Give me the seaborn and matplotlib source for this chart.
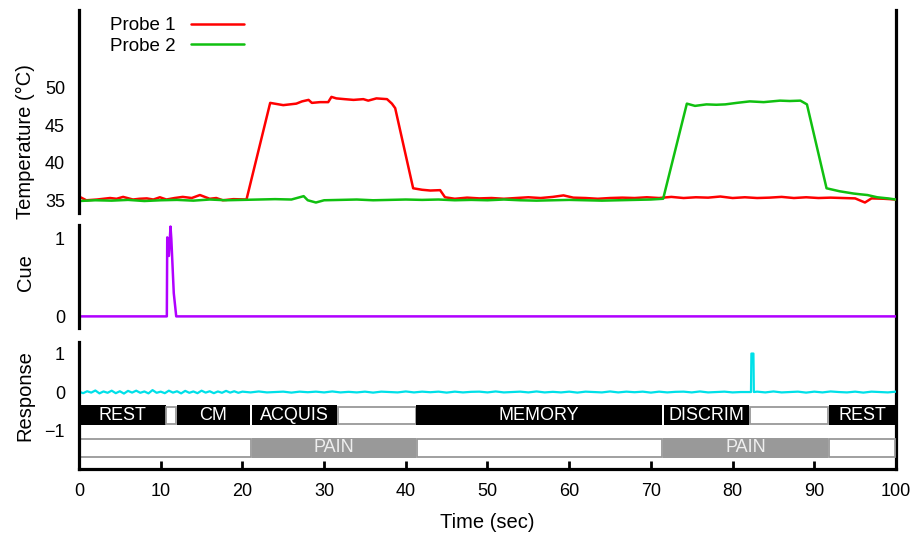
import matplotlib
matplotlib.use("Agg")
import matplotlib.pyplot as plt
import seaborn as sns

# Probe 1 temperature (deg C)
probe1_time = [0, 0.9, 2.2, 3, 3.8, 4.6, 5.4, 6.6, 7.4, 8.3, 9.1, 9.9, 10.7, 11.7, 12.7, 13.8, 14.8, 16, 16.8, 17.6, 18.9, 20.5,
               23.4, 25.0, 26.6, 27.3, 28.1, 28.5, 29.5, 30.5, 30.9, 31.5, 32.5, 33.6, 34.8, 35.4, 36.4, 37.7, 38.3, 38.7,
               40.9, 42.0, 43.0, 44.2, 44.8,
               46, 47.5, 49, 50.5, 52, 53.5, 55, 56.5, 58, 59.3, 60.5, 62, 63.5, 65, 66.5, 68, 69.5, 71, 72.5, 74,
               75.5, 77, 78.5, 80, 81.5, 83, 84.5, 86, 87.5, 89, 90.5, 92, 93.5, 95, 96.2, 97, 98.5, 100]
probe1_temp = [35.5, 35.0, 35.1, 35.2, 35.3, 35.2, 35.45, 35.1, 35.2, 35.25, 35.1, 35.4, 35.1, 35.3, 35.45, 35.3, 35.7, 35.2, 35.3, 35.0, 35.15, 35.1,
               48.0, 47.7, 47.9, 48.2, 48.4, 48.0, 48.1, 48.1, 48.8, 48.6, 48.5, 48.4, 48.5, 48.3, 48.6, 48.5, 47.9, 47.3,
               36.6, 36.4, 36.3, 36.35, 35.4,
               35.2, 35.35, 35.25, 35.3, 35.2, 35.3, 35.4, 35.3, 35.45, 35.65, 35.35, 35.3, 35.2, 35.3, 35.35, 35.3, 35.4, 35.3, 35.45, 35.3,
               35.4, 35.35, 35.5, 35.3, 35.4, 35.3, 35.35, 35.45, 35.3, 35.4, 35.3, 35.35, 35.3, 35.25, 34.7, 35.25, 35.2, 35.1]

# Probe 2 temperature (deg C)
probe2_time = [0, 2, 4, 6, 8, 10, 12, 14, 16, 18, 20, 22, 24, 26, 27.5, 28, 29, 30, 32, 34, 36, 38, 40, 42, 44, 46, 48, 50,
               52, 54, 56, 58, 60, 62, 64, 66, 68, 70, 71.5,
               74.4, 75.4, 76.8, 78, 79.1, 80.5, 82.1, 83.8, 85.8, 87, 88.3, 89.1,
               91.5, 93.1, 94.8, 95.6, 96.5, 97.7, 99, 100]
probe2_temp = [34.9, 35.0, 34.95, 35.05, 34.9, 35.0, 35.05, 34.95, 35.1, 35.0, 35.05, 35.1, 35.15, 35.1, 35.55, 35.0, 34.7, 35.0,
               35.05, 35.1, 35.0, 35.05, 35.1, 35.05, 35.1, 35.0, 35.05, 35.0, 35.1, 35.0, 34.95, 35.0, 35.05, 35.0, 34.95, 35.0,
               35.05, 35.1, 35.2,
               47.9, 47.6, 47.8, 47.75, 47.8, 48.0, 48.2, 48.1, 48.3, 48.25, 48.3, 47.8,
               36.6, 36.2, 35.9, 35.8, 35.7, 35.4, 35.25, 35.1]

# Cue signal
cue_time = [0, 10.75, 10.8, 11.0, 11.2, 11.3, 11.6, 11.9, 100]
cue_value = [0, 0, 1.02, 0.78, 1.16, 1.0, 0.3, 0, 0]

# Response signal
resp_time = [x / 2 for x in range(0, 40)] + list(range(20, 82)) + [82.25, 82.3, 82.55, 82.6] + list(range(83, 101))
resp_value = [0.01, -0.03, 0.02, -0.015, 0.04, -0.035, 0.015, -0.02, 0.035, -0.03,
              0.02, -0.04, 0.03, -0.015, 0.035, -0.02, 0.015, -0.035, 0.05, -0.02,
              0.01, -0.03, 0.035, -0.015, 0.02, -0.035, 0.03, -0.02, 0.015, -0.03,
              0.035, -0.015, 0.02, -0.03, 0.015, -0.02, 0.03, -0.015, 0.02, -0.02,
              0.01, -0.01, 0.015, -0.01, 0.0, 0.01, -0.015, 0.01, -0.005, 0.01,
              -0.01, 0.015, -0.01, 0.005, -0.01, 0.01, -0.015, 0.01, 0.0, -0.01,
              0.015, -0.01, 0.01, -0.005, 0.01, -0.015, 0.01, -0.01, 0.005, 0.01,
              -0.01, 0.015, -0.01, 0.0, 0.01, -0.01, 0.015, -0.01, 0.005, -0.01,
              0.01, -0.015, 0.01, 0.0, -0.01, 0.015, -0.01, 0.01, -0.005, 0.01,
              -0.015, 0.01, -0.01, 0.005, 0.01, -0.01, 0.015, -0.01, 0.0, 0.01,
              -0.01, 0.0,
              0.0, 1.0, 1.0, 0.0,
              0.01, -0.01, 0.015, -0.01, 0.0, 0.01, -0.015, 0.01, -0.01, 0.015, 0.0, -0.01, 0.01, -0.015, 0.01, 0.0, -0.01, 0.01]

# task phases (top bar row)
phase_start = [0, 10.6, 12.0, 21.2, 31.6, 41.3, 71.6, 82.0, 91.8]
phase_end = [10.6, 12.0, 20.9, 31.6, 41.3, 71.3, 82.0, 91.8, 100]
phase_label = ["REST", "", "CM", "ACQUIS", "", "MEMORY", "DISCRIM", "", "REST"]
phase_dark = [True, False, True, True, False, True, True, False, True]

# pain periods (bottom bar row)
pain_start = [0, 21.2, 41.2, 71.5, 91.7]
pain_end = [21.2, 41.2, 71.5, 91.7, 100]
pain_label = ["", "PAIN", "", "PAIN", ""]

sns.set_style("white")
plt.rcParams['font.family'] = ['Liberation Sans', 'DejaVu Sans']
plt.rcParams['text.color'] = 'black'
plt.rcParams['axes.labelcolor'] = 'black'

W, H = 920, 543
fig = plt.figure(figsize=(9.2, 5.43), dpi=100)


def px_axes(x0, y0, x1, y1):
    return fig.add_axes([x0 / W, 1 - y1 / H, (x1 - x0) / W, (y1 - y0) / H])


SPW = 2.3

# background box that only carries the right edge
frame = px_axes(79, 10, 896, 469)
frame.set_facecolor('none')
frame.set_xticks([])
frame.set_yticks([])
for s in ['top', 'left', 'bottom']:
    frame.spines[s].set_visible(False)
frame.spines['right'].set_linewidth(SPW)
frame.spines['right'].set_color('black')

ax_t = px_axes(79, 10, 896, 213)
ax_c = px_axes(79, 225, 896, 328)
ax_r = px_axes(79, 342, 896, 469)

for ax in [ax_t, ax_c, ax_r]:
    ax.set_facecolor('none')
    ax.set_xlim(0, 100)
    for s in ['top', 'right', 'bottom']:
        ax.spines[s].set_visible(False)
    ax.spines['left'].set_linewidth(SPW)
    ax.spines['left'].set_color('black')
    ax.tick_params(direction='in', length=6, width=2, labelsize=13, pad=10, colors='black')

ax_t.tick_params(axis='x', bottom=False, labelbottom=False)
ax_c.tick_params(axis='x', bottom=False, labelbottom=False)

# temperature panel
sns.lineplot(x=probe1_time, y=probe1_temp, ax=ax_t, color='#ff0000', lw=1.8, estimator=None, sort=False, label='Probe 1')
sns.lineplot(x=probe2_time, y=probe2_temp, ax=ax_t, color='#10c010', lw=1.8, estimator=None, sort=False, label='Probe 2')
ax_t.set_ylim(33.3, 60.4)
ax_t.set_yticks([35, 40, 45, 50])
ax_t.set_ylabel('Temperature (°C)', fontsize=14.5, va='center')
ax_t.yaxis.set_label_coords(-0.066, 0.35)
ax_t.set_xlabel('')
ax_t.legend(loc='upper left', bbox_to_anchor=(0.038, 0.965), frameon=False, markerfirst=False,
            fontsize=13.5, handlelength=2.85, handletextpad=0.8, labelspacing=0.17, borderpad=0, borderaxespad=0)

# cue panel
sns.lineplot(x=cue_time, y=cue_value, ax=ax_c, color='#b000ff', lw=1.8, estimator=None, sort=False)
ax_c.set_ylim(-0.15, 1.18)
ax_c.set_yticks([0, 1])
ax_c.set_ylabel('Cue', fontsize=14.5, va='center')
ax_c.yaxis.set_label_coords(-0.066, 0.54)
ax_c.set_xlabel('')

# response panel with task bars
sns.lineplot(x=resp_time, y=resp_value, ax=ax_r, color='#00e0e8', lw=1.6, estimator=None, sort=False)
ax_r.set_ylim(-2.0, 1.3)
ax_r.set_yticks([-1, 0, 1])
ax_r.set_ylabel('Response', fontsize=14.5, va='center')
ax_r.yaxis.set_label_coords(-0.066, 0.58)

for s, e, lab, dark in zip(phase_start, phase_end, phase_label, phase_dark):
    if dark:
        ax_r.barh(-0.6, e - s, left=s, height=0.52, color='black', edgecolor='none')
        ax_r.text((s + e) / 2, -0.6, lab, color='white', fontsize=13, ha='center', va='center')
    else:
        ax_r.barh(-0.6, e - s - 0.2, left=s + 0.1, height=0.44, color='white', edgecolor='#999999', lw=1.3)

for s, e, lab in zip(pain_start, pain_end, pain_label):
    if lab:
        ax_r.barh(-1.45, e - s, left=s, height=0.52, color='#999999', edgecolor='none')
        ax_r.text((s + e) / 2, -1.45, lab, color='#eeeeee', fontsize=13, ha='center', va='center')
    else:
        ax_r.barh(-1.45, e - s - 0.3, left=s + 0.15, height=0.48, color='white', edgecolor='#999999', lw=1.3)

ax_r.spines['bottom'].set_visible(True)
ax_r.spines['bottom'].set_linewidth(SPW)
ax_r.spines['bottom'].set_color('black')
ax_r.set_xticks(range(0, 101, 10))
ax_r.tick_params(axis='x', bottom=True, labelbottom=True)
ax_r.set_xlabel('Time (sec)', fontsize=14.5, color='black', va='center')
ax_r.xaxis.set_label_coords(0.5, -0.425)

fig.savefig('out.png', dpi=100)
